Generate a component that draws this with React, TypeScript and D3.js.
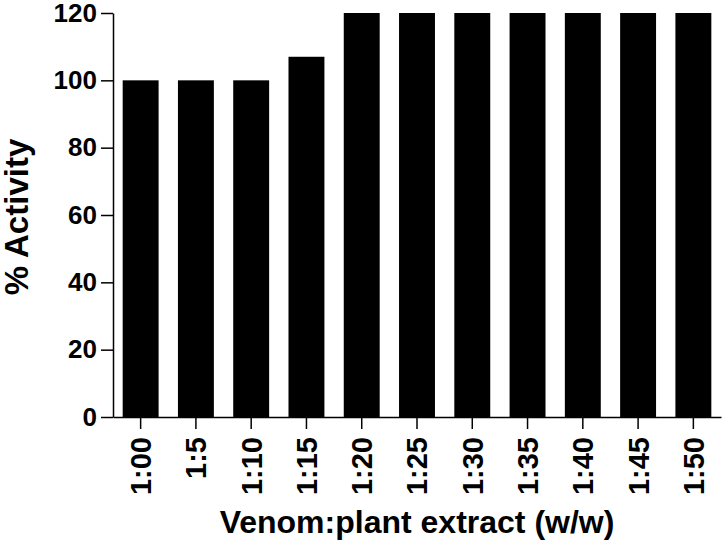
import React, { useEffect, useRef } from "react";
import * as d3 from "d3";

// ratios
const ratios = ["1:00", "1:5", "1:10", "1:15", "1:20", "1:25", "1:30", "1:35", "1:40", "1:45", "1:50"];
const activity = [100, 100, 100, 107, 120, 120, 120, 120, 120, 120, 120];
const yTicks = [0, 20, 40, 60, 80, 100, 120];

const W = 722;
const H = 541;
const FONT = "'Liberation Sans', Arial, Helvetica, sans-serif";

export default function App() {
  const ref = useRef<SVGSVGElement>(null);

  useEffect(() => {
    const svg = d3.select(ref.current);
    svg.selectAll("*").remove();

    const margin = { top: 13, right: 1, bottom: 124, left: 113 };

    const x = d3
      .scaleBand()
      .domain(ratios)
      .range([margin.left, W - margin.right])
      .paddingInner(0.35)
      .paddingOuter(0.175);

    const y = d3
      .scaleLinear()
      .domain([0, 120])
      .range([H - margin.bottom, margin.top]);

    // bars
    svg
      .append("g")
      .selectAll("rect")
      .data(activity)
      .join("rect")
      .attr("x", (_d, i) => x(ratios[i]))
      .attr("y", (d) => y(d))
      .attr("width", x.bandwidth())
      .attr("height", (d) => y(0) - y(d))
      .attr("fill", "#000");

    // y axis
    const axisLeft = svg
      .append("g")
      .attr("transform", `translate(${margin.left},0)`)
      .call(d3.axisLeft(y).tickValues(yTicks).tickSize(12).tickSizeOuter(0).tickPadding(4));
    axisLeft.selectAll("path, line").attr("stroke", "#000").attr("stroke-width", 1.5);
    axisLeft
      .selectAll("text")
      .attr("fill", "#000")
      .style("font-family", FONT)
      .style("font-weight", "bold")
      .style("font-size", "26px");

    // x axis
    const axisBottom = svg
      .append("g")
      .attr("transform", `translate(0,${y(0)})`)
      .call(d3.axisBottom(x).tickSize(12).tickSizeOuter(0));
    axisBottom.selectAll("path, line").attr("stroke", "#000").attr("stroke-width", 1.5);
    axisBottom
      .selectAll("text")
      .attr("fill", "#000")
      .attr("transform", "rotate(-90)")
      .attr("x", -20)
      .attr("y", 0)
      .attr("dy", "0.36em")
      .attr("text-anchor", "end")
      .style("font-family", FONT)
      .style("font-weight", "bold")
      .style("font-size", "29px");

    // axis titles
    svg
      .append("text")
      .attr("x", (margin.left + W - margin.right) / 2)
      .attr("y", 533)
      .attr("text-anchor", "middle")
      .style("font-family", FONT)
      .style("font-weight", "bold")
      .style("font-size", "32px")
      .text("Venom:plant extract (w/w)");

    svg
      .append("text")
      .attr("transform", `translate(28,217) rotate(-90)`)
      .attr("text-anchor", "middle")
      .style("font-family", FONT)
      .style("font-weight", "bold")
      .style("font-size", "33px")
      .text("% Activity");
  }, []);

  return (
    <svg
      ref={ref}
      width={W}
      height={H}
      style={{ position: "absolute", left: 0, top: 0, background: "#fff" }}
    />
  );
}
